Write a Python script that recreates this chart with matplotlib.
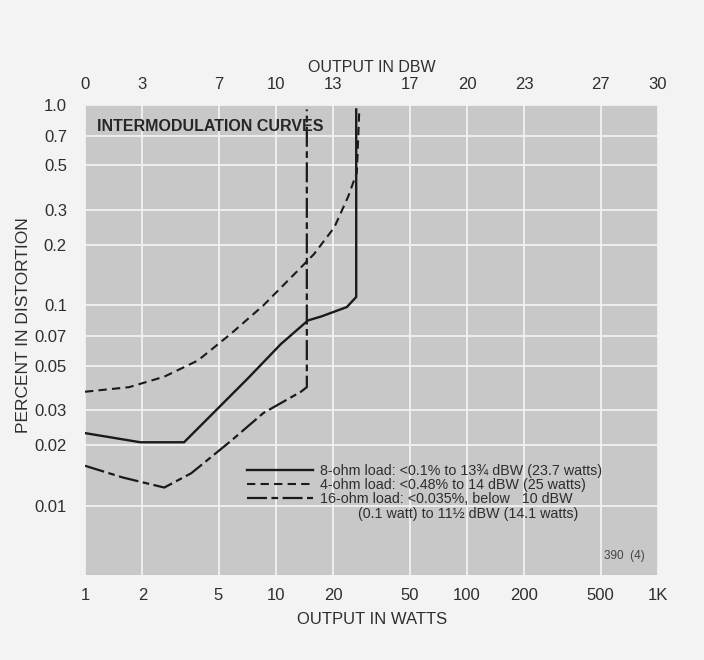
import numpy as np
import matplotlib
matplotlib.use("Agg")
import matplotlib.pyplot as plt
from matplotlib.lines import Line2D

# curve data (watts, percent distortion)
w_8ohm = [1.0, 1.95, 3.3, 4.7, 7.1, 10.6, 14.7, 17.3, 23.5, 26.3, 26.3]
d_8ohm = [0.023, 0.0207, 0.0207, 0.029, 0.043, 0.064, 0.084, 0.088, 0.098, 0.11, 0.95]

w_4ohm = [1.0, 1.7, 2.6, 3.9, 5.8, 8.6, 13.1, 15.8, 20.2, 23.9, 26.5, 27.3]
d_4ohm = [0.037, 0.039, 0.044, 0.053, 0.072, 0.10, 0.15, 0.18, 0.245, 0.35, 0.46, 0.95]

w_16ohm = [1.0, 1.58, 2.6, 3.6, 5.8, 8.6, 13.5, 14.5, 14.5]
d_16ohm = [0.0158, 0.0138, 0.0123, 0.0145, 0.021, 0.029, 0.037, 0.039, 0.95]

watt_ticks = [1, 2, 5, 10, 20, 50, 100, 200, 500, 1000]
watt_labels = ["1", "2", "5", "10", "20", "50", "100", "200", "500", "1K"]
dbw_ticks = [0, 3, 7, 10, 13, 17, 20, 23, 27, 30]
pct_ticks = [1.0, 0.7, 0.5, 0.3, 0.2, 0.1, 0.07, 0.05, 0.03, 0.02, 0.01]
pct_labels = ["1.0", "0.7", "0.5", "0.3", "0.2", "0.1", "0.07", "0.05", "0.03", "0.02", "0.01"]

legend_labels = [
    "8-ohm load: <0.1% to 13\u00be dBW (23.7 watts)",
    "4-ohm load: <0.48% to 14 dBW (25 watts)",
    "16-ohm load: <0.035%, below   10 dBW",
]
legend_extra = "(0.1 watt) to 11\u00bd dBW (14.1 watts)"

plt.rcParams["font.family"] = ["Liberation Sans", "DejaVu Sans"]

ink = "#1a1a1a"
text_col = "#2e2e2e"
dash = (0, (4, 2.5))
dash_dot = (0, (9, 2, 3, 2))

fig = plt.figure(figsize=(7.04, 6.6), dpi=100, facecolor="#f3f3f3")
ax = fig.add_axes([85 / 704, 1 - 575 / 660, 573 / 704, 470 / 660])
ax.set_facecolor("#c8c8c8")

ax.set_xscale("log")
ax.set_yscale("log")
ax.set_xlim(1, 1000)
ax.set_ylim(0.0045, 1.0)

ax.plot(w_8ohm, d_8ohm, color=ink, lw=1.7, solid_joinstyle="miter")
ax.plot(w_4ohm, d_4ohm, color=ink, lw=1.5, linestyle=dash)
ax.plot(w_16ohm, d_16ohm, color=ink, lw=1.6, linestyle=dash_dot)

ax.set_xticks(watt_ticks)
ax.set_xticklabels(watt_labels)
ax.set_yticks(pct_ticks)
ax.set_yticklabels(pct_labels)
ax.minorticks_off()
ax.tick_params(axis="both", length=0, labelsize=12, colors=text_col)
ax.tick_params(axis="x", pad=9)
ax.tick_params(axis="y", pad=13)
ax.grid(True, color="#f2f2f2", lw=1.3)
for s in ax.spines.values():
    s.set_visible(False)

top = ax.secondary_xaxis("top", functions=(lambda w: 10 * np.log10(w),
                                           lambda d: 10 ** (d / 10)))
top.set_xticks(dbw_ticks)
top.set_xticklabels([str(t) for t in dbw_ticks])
top.tick_params(length=0, labelsize=12, colors=text_col, pad=9)
top.minorticks_off()
for s in top.spines.values():
    s.set_visible(False)

ax.text(0.021, 0.955, "INTERMODULATION CURVES", transform=ax.transAxes,
        fontsize=11.5, fontweight="bold", color="#262626", va="center", ha="left")

handles = [Line2D([], [], color=ink, lw=1.7),
           Line2D([], [], color=ink, lw=1.5, linestyle=dash),
           Line2D([], [], color=ink, lw=1.6, linestyle=dash_dot)]
leg = ax.legend(handles, legend_labels, loc="upper left", bbox_to_anchor=(0.27, 0.252),
                frameon=False, fontsize=10.3, handlelength=4.6, handletextpad=0.5,
                labelspacing=0.0, borderpad=0)
for t in leg.get_texts():
    t.set_color(text_col)
ax.text(0.477, 0.13, legend_extra, transform=ax.transAxes, fontsize=10.3,
        color=text_col, va="center", ha="left")
ax.text(0.905, 0.04, "390  (4)", transform=ax.transAxes, fontsize=8.5,
        color="#444444", va="center", ha="left")

fig.text(372 / 704, 1 - 68 / 660, "OUTPUT IN DBW", fontsize=11.5, color=text_col,
         ha="center", va="center")
fig.text(372 / 704, 1 - 620 / 660, "OUTPUT IN WATTS", fontsize=12, color=text_col,
         ha="center", va="center")
fig.text(24 / 704, 1 - 325 / 660, "PERCENT IN DISTORTION", fontsize=12.5, color=text_col,
         ha="center", va="center", rotation=90)

fig.savefig("out.png", dpi=100, facecolor=fig.get_facecolor())
